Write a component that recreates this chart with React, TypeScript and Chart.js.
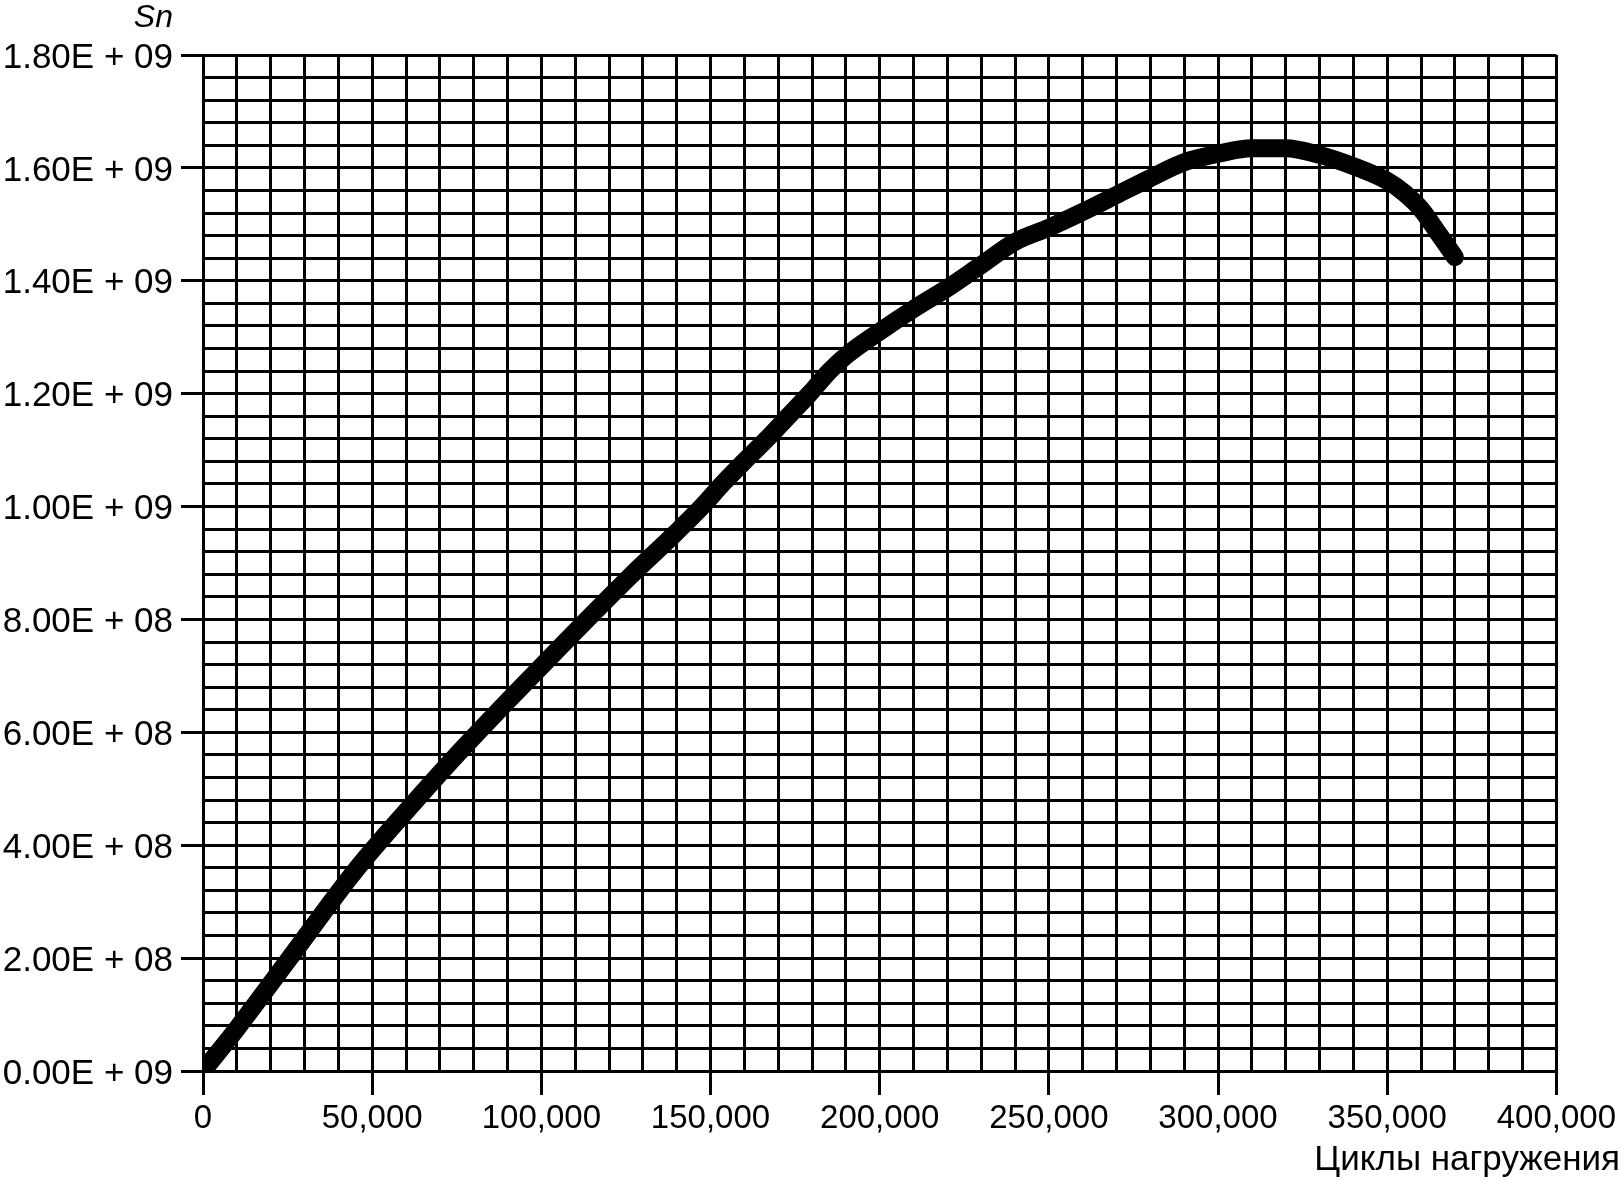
import React, { useEffect, useRef } from "react";
import { Chart, registerables } from "chart.js";

Chart.register(...registerables);

// Load cycles (x) and Sn values (y)
const cycles: number[] = [
  0, 10000, 25000, 45000, 63000, 75000, 90000, 107000, 126000, 140000,
  147500, 153500, 160000, 166700, 173000, 179300, 185200, 190000, 200000,
  210000, 220000, 230000, 240000, 250000, 260000, 270000, 280000, 290000,
  300000, 310000, 320000, 330000, 340000, 350000, 355000, 360000, 365000,
  370000,
];
const snValues: number[] = [
  0, 0.075e9, 0.195e9, 0.355e9, 0.48e9, 0.56e9, 0.655e9, 0.76e9, 0.875e9,
  0.955e9, 1.0e9, 1.04e9, 1.08e9, 1.12e9, 1.16e9, 1.2e9, 1.24e9, 1.267e9,
  1.31e9, 1.35e9, 1.387e9, 1.428e9, 1.469e9, 1.494e9, 1.522e9, 1.552e9,
  1.582e9, 1.61e9, 1.625e9, 1.635e9, 1.635e9, 1.623e9, 1.603e9, 1.577e9,
  1.556e9, 1.527e9, 1.485e9, 1.442e9,
];

const yTickLabels: string[] = [
  "0.00E + 09",
  "2.00E + 08",
  "4.00E + 08",
  "6.00E + 08",
  "8.00E + 08",
  "1.00E + 09",
  "1.20E + 09",
  "1.40E + 09",
  "1.60E + 09",
  "1.80E + 09",
];
const xTickLabels: string[] = [
  "0",
  "50,000",
  "100,000",
  "150,000",
  "200,000",
  "250,000",
  "300,000",
  "350,000",
  "400,000",
];

const yAxisTitle = "Sn";
const xAxisTitle = "Циклы нагружения";

const FONT = "'Liberation Sans', Arial, Helvetica, sans-serif";

export default function App() {
  const canvasRef = useRef<HTMLCanvasElement | null>(null);

  useEffect(() => {
    const canvas = canvasRef.current;
    if (!canvas) return;
    const points = cycles.map((c, i) => ({ x: c, y: snValues[i] }));
    const yMajor = (v: number) => Math.round(v / 4e7) % 5 === 0;
    const xMajor = (v: number) => Math.round(v / 10000) % 5 === 0;

    const chart = new Chart(canvas, {
      type: "line",
      data: {
        datasets: [
          {
            data: points,
            borderColor: "#000",
            borderWidth: 18,
            borderCapStyle: "round",
            borderJoinStyle: "round",
            pointRadius: 0,
            cubicInterpolationMode: "monotone",
            fill: false,
          },
        ],
      },
      options: {
        animation: false,
        responsive: false,
        devicePixelRatio: 1,
        layout: { padding: { top: 55, right: 63, left: 0, bottom: 0 } },
        plugins: {
          legend: { display: false },
          tooltip: { enabled: false },
          title: { display: false },
        },
        scales: {
          x: {
            type: "linear",
            min: 0,
            max: 400000,
            afterFit: (scale: any) => {
              scale.height = 110;
            },
            grid: {
              color: "#000",
              lineWidth: 3,
              tickLength: 24,
              tickWidth: 3,
              tickColor: (ctx: any) =>
                ctx.tick && xMajor(ctx.tick.value) ? "#000" : "rgba(0,0,0,0)",
            },
            border: { display: true, color: "#000", width: 3 },
            ticks: {
              stepSize: 10000,
              maxTicksLimit: 100,
              autoSkip: false,
              maxRotation: 0,
              minRotation: 0,
              padding: 4,
              color: "#000",
              font: { family: FONT, size: 33 },
              callback: (value: any) => {
                const v = Number(value);
                return xMajor(v) ? xTickLabels[Math.round(v / 50000)] : "";
              },
            },
          },
          y: {
            type: "linear",
            min: 0,
            max: 1.8e9,
            afterFit: (scale: any) => {
              scale.width = 203;
            },
            grid: {
              color: "#000",
              lineWidth: 3,
              tickLength: 22,
              tickWidth: 3,
              tickColor: (ctx: any) =>
                ctx.tick && yMajor(ctx.tick.value) ? "#000" : "rgba(0,0,0,0)",
            },
            border: { display: true, color: "#000", width: 3 },
            ticks: {
              stepSize: 4e7,
              maxTicksLimit: 100,
              autoSkip: false,
              padding: 8,
              labelOffset: 3,
              color: "#000",
              font: { family: FONT, size: 35 },
              callback: (value: any) => {
                const v = Number(value);
                return yMajor(v) ? yTickLabels[Math.round(v / 2e8)] : "";
              },
            },
          },
        },
      },
    } as any);

    return () => {
      chart.destroy();
    };
  }, []);

  return (
    <div
      style={{
        position: "absolute",
        left: 0,
        top: 0,
        width: 1620,
        height: 1181,
        background: "#fff",
        overflow: "hidden",
        fontFamily: FONT,
        color: "#000",
      }}
    >
      <canvas
        ref={canvasRef}
        width={1620}
        height={1181}
        style={{ position: "absolute", left: 0, top: 0, width: 1620, height: 1181 }}
      />
      <div
        style={{
          position: "absolute",
          right: 1620 - 173,
          top: 0,
          fontSize: 32,
          lineHeight: "32px",
          fontStyle: "italic",
          whiteSpace: "nowrap",
        }}
      >
        {yAxisTitle}
      </div>
      <div
        style={{
          position: "absolute",
          right: 0,
          top: 1140,
          fontSize: 35,
          lineHeight: "35px",
          whiteSpace: "nowrap",
        }}
      >
        {xAxisTitle}
      </div>
    </div>
  );
}
